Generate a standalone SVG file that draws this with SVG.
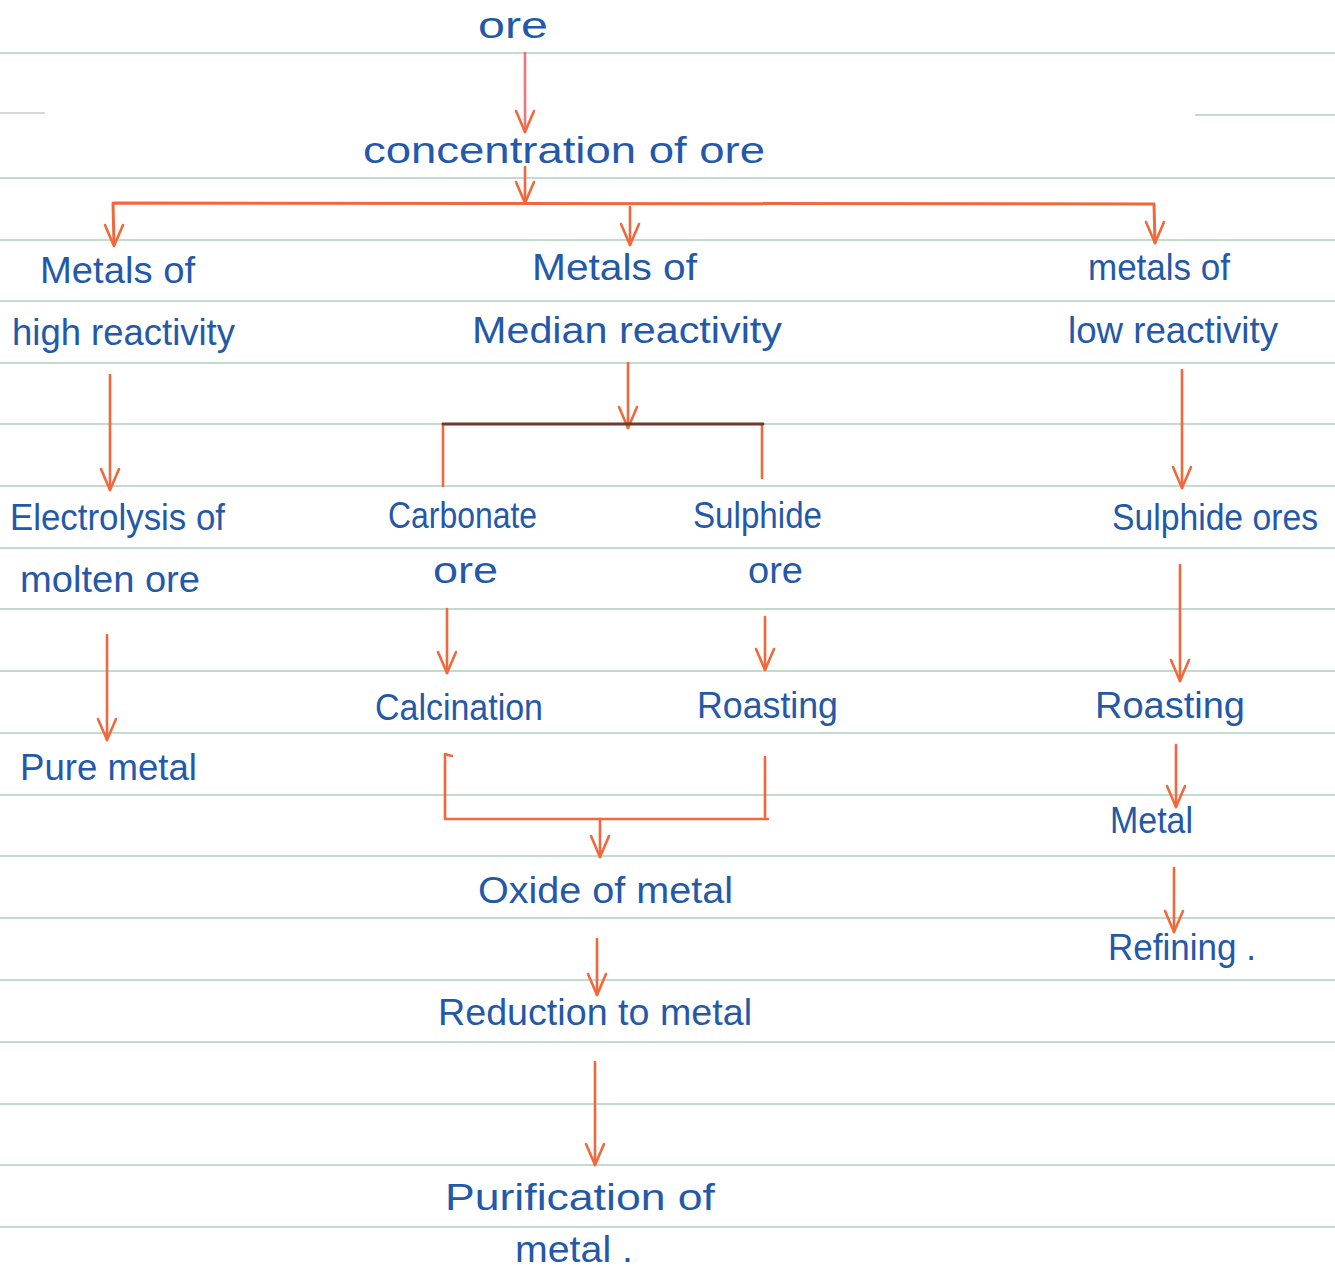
<svg xmlns="http://www.w3.org/2000/svg" width="1335" height="1272" viewBox="0 0 1335 1272">
<style>
.rule{stroke:#add0b9;stroke-width:1.6;fill:none}
.c{stroke:#f0683c;stroke-width:2.6;fill:none;stroke-linecap:round;stroke-linejoin:round}
.t{font-family:"Liberation Sans",Arial,sans-serif;font-size:36px;fill:#2458a8}
</style>
<defs>
<marker id="ah" markerUnits="userSpaceOnUse" viewBox="-26 -14 30 28" markerWidth="30" markerHeight="28" refX="0" refY="0" orient="auto" overflow="visible">
<path d="M-21,-9 L0,0 L-21,9" fill="none" stroke="#f0683c" stroke-width="2.6" stroke-linecap="round" stroke-linejoin="round"/>
</marker>
</defs>
<rect width="1335" height="1272" fill="#ffffff"/>
<g id="ruling">
<line class="rule" x1="0" y1="53" x2="1335" y2="53"/>
<line class="rule" x1="0" y1="113" x2="45" y2="113" style="stroke:#c8ccc8"/>
<line class="rule" x1="1195" y1="115" x2="1335" y2="115"/>
<line class="rule" x1="0" y1="178" x2="1335" y2="178"/>
<line class="rule" x1="0" y1="240" x2="1335" y2="240"/>
<line class="rule" x1="0" y1="301" x2="1335" y2="301"/>
<line class="rule" x1="0" y1="363" x2="1335" y2="363"/>
<line class="rule" x1="0" y1="424" x2="1335" y2="424"/>
<line class="rule" x1="0" y1="486" x2="1335" y2="486"/>
<line class="rule" x1="0" y1="548" x2="1335" y2="548"/>
<line class="rule" x1="0" y1="609" x2="1335" y2="609"/>
<line class="rule" x1="0" y1="671" x2="1335" y2="671"/>
<line class="rule" x1="0" y1="733" x2="1335" y2="733"/>
<line class="rule" x1="0" y1="795" x2="1335" y2="795"/>
<line class="rule" x1="0" y1="856" x2="1335" y2="856"/>
<line class="rule" x1="0" y1="918" x2="1335" y2="918"/>
<line class="rule" x1="0" y1="980" x2="1335" y2="980"/>
<line class="rule" x1="0" y1="1042" x2="1335" y2="1042"/>
<line class="rule" x1="0" y1="1104" x2="1335" y2="1104"/>
<line class="rule" x1="0" y1="1165" x2="1335" y2="1165"/>
<line class="rule" x1="0" y1="1227" x2="1335" y2="1227"/>
</g>
<g id="connectors">
<line class="c" x1="525" y1="53" x2="525" y2="132" style="stroke:#ee7480" marker-end="url(#ah)"/>
<line class="c" x1="525" y1="167" x2="525" y2="203" marker-end="url(#ah)"/>
<path class="c" d="M114,245 L113,203 L1154,204 L1155,243" style="stroke-width:3"/>
<line class="c" x1="114" y1="215" x2="114" y2="246" style="stroke:none" marker-end="url(#ah)"/>
<line class="c" x1="1155" y1="215" x2="1155" y2="243" style="stroke:none" marker-end="url(#ah)"/>
<line class="c" x1="630" y1="207" x2="630" y2="245" marker-end="url(#ah)"/>
<line class="c" x1="110" y1="375" x2="110" y2="490" marker-end="url(#ah)"/>
<line class="c" x1="628" y1="363" x2="628" y2="428" marker-end="url(#ah)"/>
<path class="c" d="M443,486 L443,424 M762,424 L762,478"/>
<line x1="443" y1="424" x2="763" y2="424" stroke="#6e3a2e" stroke-width="2.8" stroke-linecap="round"/>
<line class="c" x1="1182" y1="370" x2="1182" y2="488" marker-end="url(#ah)"/>
<line class="c" x1="107" y1="635" x2="107" y2="740" marker-end="url(#ah)"/>
<line class="c" x1="447" y1="609" x2="447" y2="673" marker-end="url(#ah)"/>
<line class="c" x1="765" y1="617" x2="765" y2="670" marker-end="url(#ah)"/>
<path class="c" d="M452,756 L445,754 L445,819 L768,819 M765,757 L765,819"/>
<line class="c" x1="600" y1="819" x2="600" y2="857" marker-end="url(#ah)"/>
<line class="c" x1="597" y1="939" x2="597" y2="995" marker-end="url(#ah)"/>
<line class="c" x1="595" y1="1062" x2="595" y2="1165" marker-end="url(#ah)"/>
<line class="c" x1="1180" y1="565" x2="1180" y2="681" marker-end="url(#ah)"/>
<line class="c" x1="1176" y1="745" x2="1176" y2="807" marker-end="url(#ah)"/>
<line class="c" x1="1174" y1="868" x2="1174" y2="932" marker-end="url(#ah)"/>
</g>
<g id="n-ore"><text class="t" x="478" y="38" textLength="70" lengthAdjust="spacingAndGlyphs">ore</text></g>
<g id="n-concentration"><text class="t" x="363" y="163" textLength="402" lengthAdjust="spacingAndGlyphs">concentration of ore</text></g>
<g id="n-high">
<text class="t" x="40" y="283" textLength="155" lengthAdjust="spacingAndGlyphs">Metals of</text>
<text class="t" x="12" y="345" textLength="223" lengthAdjust="spacingAndGlyphs">high reactivity</text>
</g>
<g id="n-median">
<text class="t" x="532" y="280" textLength="165" lengthAdjust="spacingAndGlyphs">Metals of</text>
<text class="t" x="472" y="343" textLength="310" lengthAdjust="spacingAndGlyphs">Median reactivity</text>
</g>
<g id="n-low">
<text class="t" x="1088" y="280" textLength="142" lengthAdjust="spacingAndGlyphs">metals of</text>
<text class="t" x="1068" y="343" textLength="210" lengthAdjust="spacingAndGlyphs">low reactivity</text>
</g>
<g id="n-electrolysis">
<text class="t" x="10" y="530" textLength="215" lengthAdjust="spacingAndGlyphs">Electrolysis of</text>
<text class="t" x="20" y="592" textLength="180" lengthAdjust="spacingAndGlyphs">molten ore</text>
</g>
<g id="n-pure"><text class="t" x="20" y="780" textLength="177" lengthAdjust="spacingAndGlyphs">Pure metal</text></g>
<g id="n-carbonate">
<text class="t" x="388" y="528" textLength="149" lengthAdjust="spacingAndGlyphs">Carbonate</text>
<text class="t" x="433" y="583" textLength="65" lengthAdjust="spacingAndGlyphs">ore</text>
</g>
<g id="n-sulphide">
<text class="t" x="693" y="528" textLength="129" lengthAdjust="spacingAndGlyphs">Sulphide</text>
<text class="t" x="748" y="583" textLength="55" lengthAdjust="spacingAndGlyphs">ore</text>
</g>
<g id="n-calcination"><text class="t" x="375" y="720" textLength="168" lengthAdjust="spacingAndGlyphs">Calcination</text></g>
<g id="n-roasting1"><text class="t" x="697" y="718" textLength="141" lengthAdjust="spacingAndGlyphs">Roasting</text></g>
<g id="n-oxide"><text class="t" x="478" y="903" textLength="255" lengthAdjust="spacingAndGlyphs">Oxide of metal</text></g>
<g id="n-reduction"><text class="t" x="438" y="1025" textLength="314" lengthAdjust="spacingAndGlyphs">Reduction to metal</text></g>
<g id="n-purification">
<text class="t" x="445" y="1210" textLength="270" lengthAdjust="spacingAndGlyphs">Purification of</text>
<text class="t" x="515" y="1262" textLength="118" lengthAdjust="spacingAndGlyphs">metal .</text>
</g>
<g id="n-sulphide-ores"><text class="t" x="1112" y="530" textLength="206" lengthAdjust="spacingAndGlyphs">Sulphide ores</text></g>
<g id="n-roasting2"><text class="t" x="1095" y="718" textLength="150" lengthAdjust="spacingAndGlyphs">Roasting</text></g>
<g id="n-metal"><text class="t" x="1110" y="833" textLength="83" lengthAdjust="spacingAndGlyphs">Metal</text></g>
<g id="n-refining"><text class="t" x="1108" y="960" textLength="148" lengthAdjust="spacingAndGlyphs">Refining .</text></g>
</svg>
